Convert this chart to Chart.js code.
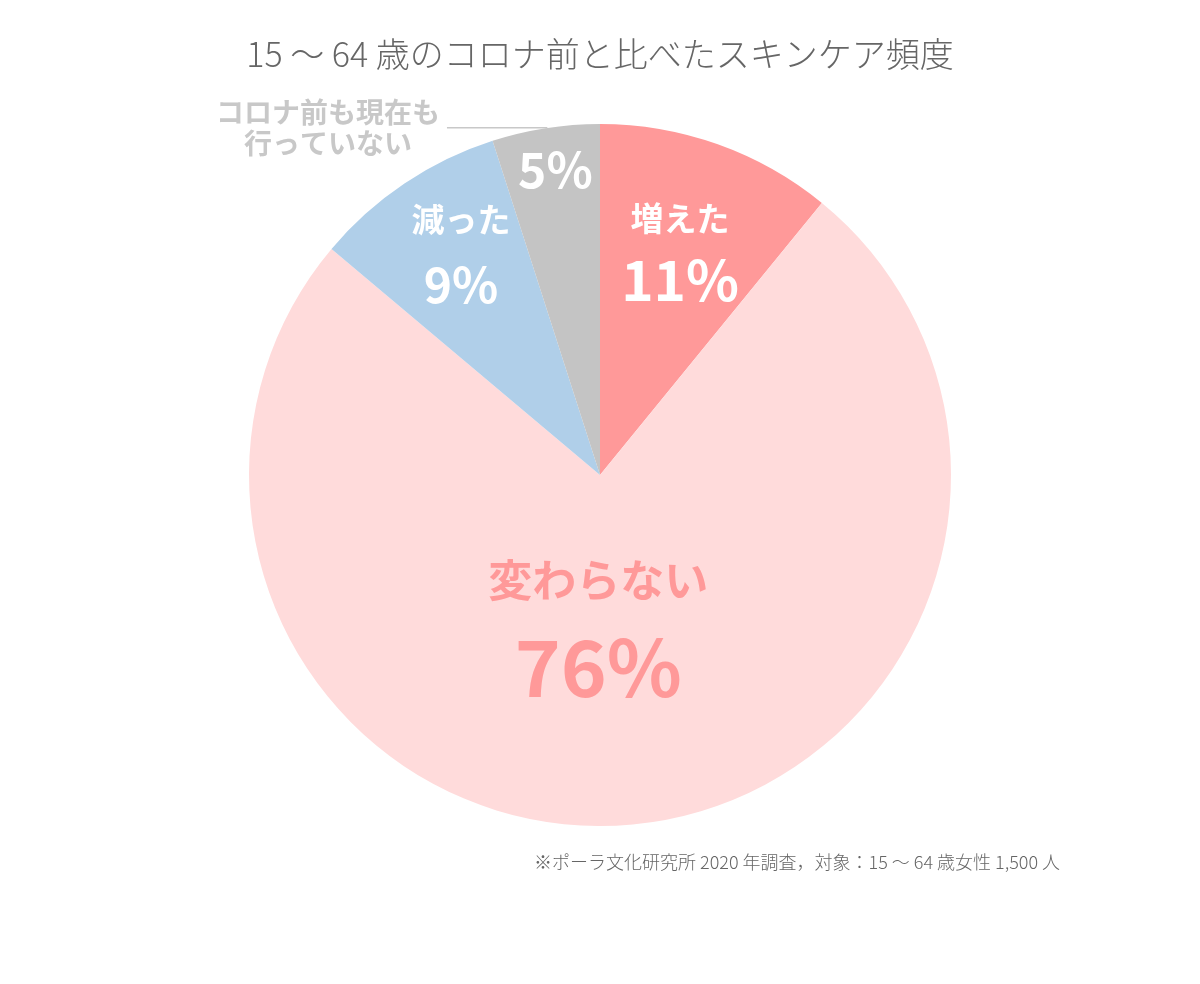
<!DOCTYPE html>
<html>
<head>
<meta charset="utf-8">
<script src="https://cdn.jsdelivr.net/npm/chart.js@4"></script>
<style>
  html, body { margin: 0; padding: 0; background: #fff; }
  #wrap { width: 1200px; height: 984px; position: relative; }
</style>
</head>
<body>
<div id="wrap"><canvas id="pieChart" width="1200" height="984"></canvas></div>
<script>
const categories = ["増えた", "変わらない", "減った", "コロナ前も現在も行っていない"];
const values = [11, 76, 9, 5];
const valueLabels = ["11%", "76%", "9%", "5%"];
const sliceColors = ["#ff9999", "#ffdbdb", "#b0cfe9", "#c4c4c4"];

const FONT = "'Noto Sans CJK JP', 'Noto Sans', sans-serif";

// label placement per slice: radius fraction, angle shift (deg), text lines
const labelStyle = [
      { r: 0.68, da: 0, color: "#fff", lines: [
            { text: "増えた", size: 33, dy: -32 },
            { text: valueLabels[0], size: 55, dy: 30 },
      ] },
      { r: 0.42, da: 6, color: "#ff9999", lines: [
            { text: "変わらない", size: 44, dy: -42 },
            { text: valueLabels[1], size: 78, dy: 45 },
      ] },
      { r: 0.75, da: 2, color: "#fff", lines: [
            { text: "減った", size: 33, dy: -32 },
            { text: valueLabels[2], size: 48, dy: 33 },
      ] },
      { r: 0.88, da: 0.6, color: "#fff", lines: [
            { text: valueLabels[3], size: 48, dy: 0 },
      ] },
];

const sliceLabels = {
      id: "sliceLabels",
      afterDatasetsDraw(chart) {
            const ctx = chart.ctx;
            const arcs = chart.getDatasetMeta(0).data;
            ctx.save();
            ctx.textAlign = "center";
            ctx.textBaseline = "middle";
            arcs.forEach((arc, i) => {
                  const st = labelStyle[i];
                  const mid = (arc.startAngle + arc.endAngle) / 2 + st.da * Math.PI / 180;
                  const cx = arc.x + Math.cos(mid) * arc.outerRadius * st.r;
                  const cy = arc.y + Math.sin(mid) * arc.outerRadius * st.r;
                  ctx.fillStyle = st.color;
                  st.lines.forEach((ln) => {
                        ctx.font = "bold " + ln.size + "px " + FONT;
                        ctx.fillText(ln.text, cx, cy + ln.dy);
                  });
            });

            // outside label for the grey slice
            const a = arcs[3];
            const R = a.outerRadius;
            const ly = a.y - R * 0.989;
            ctx.strokeStyle = "#c8c8c8";
            ctx.lineWidth = 1.5;
            ctx.beginPath();
            ctx.moveTo(a.x - R * 0.436, ly);
            ctx.lineTo(a.x - R * 0.15, ly);
            ctx.stroke();
            ctx.fillStyle = "#c8c8c8";
            ctx.font = "bold 28px " + FONT;
            ctx.fillText("コロナ前も現在も", a.x - R * 0.775, a.y - R * 1.034);
            ctx.fillText("行っていない", a.x - R * 0.775, a.y - R * 0.946);

            // title and note
            ctx.fillStyle = "#666";
            ctx.font = "300 34px " + FONT;
            ctx.fillText("15 〜 64 歳のコロナ前と比べたスキンケア頻度", 600, 54);
            ctx.textAlign = "right";
            ctx.font = "300 18px " + FONT;
            ctx.fillText("※ポーラ文化研究所 2020 年調査，対象：15 〜 64 歳女性 1,500 人", 1060, 862);
            ctx.restore();
      },
};

const chartCtx = document.getElementById("pieChart");

new Chart(chartCtx, {
      type: "pie",
      data: {
            labels: categories,
            datasets: [
                  {
                        data: values,
                        backgroundColor: sliceColors,
                        borderWidth: 0,
                  },
            ],
      },
      options: {
            responsive: false,
            animation: false,
            layout: {
                  padding: { top: 124, bottom: 158, left: 0, right: 0 },
            },
            plugins: {
                  legend: { display: false },
                  tooltip: { enabled: false },
            },
      },
      plugins: [sliceLabels],
});
</script>
</body>
</html>
